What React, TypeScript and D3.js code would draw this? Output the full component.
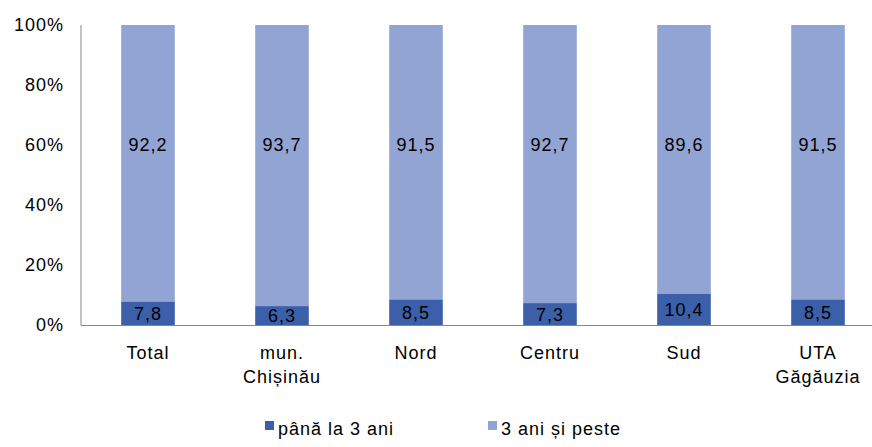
import React from "react";
import * as d3 from "d3";

const categories = ["Total", "mun.\nChișinău", "Nord", "Centru", "Sud", "UTA\nGăgăuzia"];
const under3 = [7.8, 6.3, 8.5, 7.3, 10.4, 8.5];
const over3 = [92.2, 93.7, 91.5, 92.7, 89.6, 91.5];
const yTicks = [0, 20, 40, 60, 80, 100];
const seriesNames = ["până la 3 ani", "3 ani și peste"];

const DARK = "#3C5FAA";
const LIGHT = "#91A4D4";
const FONT = "'Liberation Sans', Arial, sans-serif";
const FS = 18;
const LS = 1;

export default function App() {
  const width = 872;
  const height = 447;
  const left = 81;
  const top = 25;
  const bottom = 325;

  const x = d3.scaleBand<number>().domain(d3.range(categories.length)).range([left, left + 134 * 6]).padding(0);
  const y = d3.scaleLinear().domain([0, 100]).range([bottom, top]);
  const barW = x.bandwidth() * 0.4;

  const fmt = (v: number) => v.toFixed(1).replace(".", ",");

  return (
    <svg width={width} height={height} style={{ position: "absolute", left: 0, top: 0 }} fontFamily={FONT} letterSpacing={LS}>
      <rect width={width} height={height} fill="#fff" />
      {yTicks.map((t) => (
        <text key={t} x={64} y={y(t)} dy="0.36em" textAnchor="end" fontSize={FS} fill="#000">
          {t}%
        </text>
      ))}
      {categories.map((c, i) => {
        const cx = x(i)! + x.bandwidth() / 2;
        const bx = cx - barW / 2;
        const d = under3[i];
        const l = over3[i];
        return (
          <g key={c}>
            <rect x={bx} y={y(d + l)} width={barW} height={y(d) - y(d + l)} fill={LIGHT} />
            <rect x={bx} y={y(d)} width={barW} height={y(0) - y(d)} fill={DARK} />
            <text x={cx} y={y(60)} dy="0.36em" textAnchor="middle" fontSize={FS} fill="#000">
              {fmt(l)}
            </text>
            <text x={cx} y={(y(d) + y(0)) / 2} dy="0.38em" textAnchor="middle" fontSize={FS} fill="#000">
              {fmt(d)}
            </text>
            {c.split("\n").map((line, k) => (
              <text key={k} x={cx} y={359 + k * 24} textAnchor="middle" fontSize={FS} fill="#000">
                {line}
              </text>
            ))}
          </g>
        );
      })}
      <line x1={left} x2={left} y1={top} y2={bottom + 0.5} stroke="#868686" />
      <line x1={left} x2={width} y1={bottom + 0.5} y2={bottom + 0.5} stroke="#868686" />
      {seriesNames.map((s, i) => {
        const lx = i === 0 ? 265 : 488;
        return (
          <g key={s}>
            <rect x={lx} y={421} width={9} height={9} fill={i === 0 ? DARK : LIGHT} />
            <text x={lx + 13} y={435} fontSize={FS} fill="#000">
              {s}
            </text>
          </g>
        );
      })}
    </svg>
  );
}
